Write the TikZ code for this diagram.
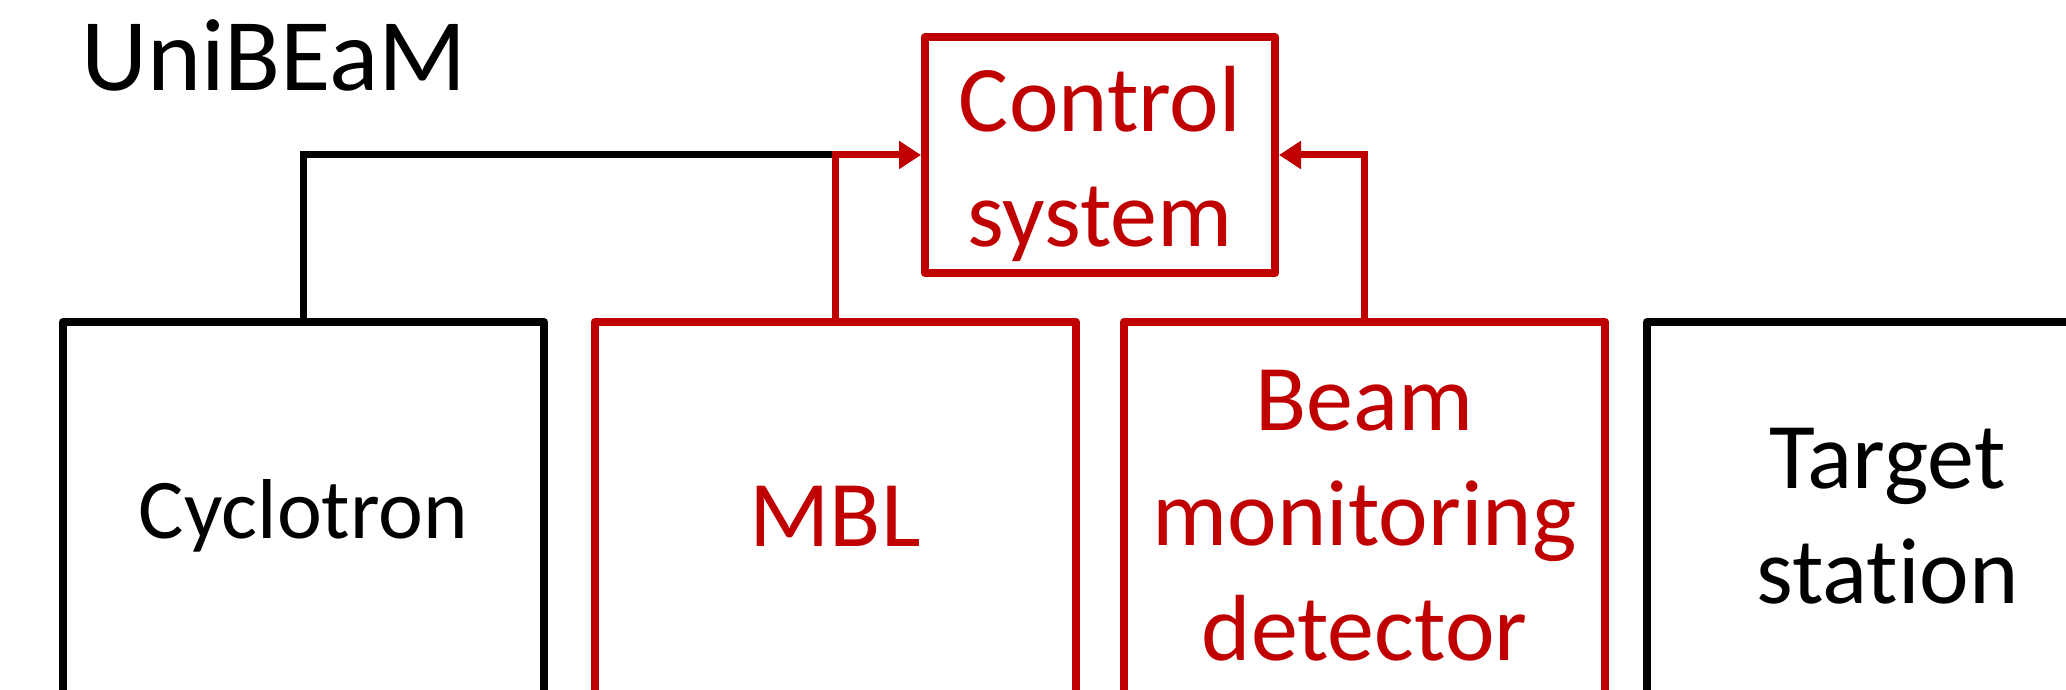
\documentclass[tikz,border=0pt]{standalone}
\usepackage{fontspec}
\setmainfont{Carlito}[Ligatures=CommonOff]
\usetikzlibrary{arrows.meta}
\definecolor{deepred}{HTML}{C00000}

\begin{document}
\begin{tikzpicture}[x=0.5pt,y=0.5pt,
 part/.style={draw,line width=4pt,line join=round,minimum width=240.5pt,minimum height=194pt,align=center,inner sep=0pt,font=\fontsize{47}{57.5}\selectfont},
 red part/.style={part,draw=deepred,text=deepred},
 link/.style={line width=3.5pt},
 feed/.style={link,draw=deepred,-{Triangle[length=11pt,width=13.5pt]}}]
 \useasboundingbox (0,0) rectangle (2066,690);
 \clip (0,0) rectangle (2066,690);
 \node[anchor=base west,font=\fontsize{51.5}{60}\selectfont] (title) at (74,599) {UniBEaM};
 \node[red part,minimum width=175pt,minimum height=118pt] (ctrl) at (1100,535) {\rule{0pt}{42pt}Control\\system};
 \node[part,font=\fontsize{42.5}{57.5}\selectfont] (cyc) at (303.5,174) {Cyclotron};
 \node[red part] (mbl) at (835,174) {MBL};
 \node[red part] (bmd) at (1364.5,174) {Beam\\monitoring\\detector};
 \node[part] (tgt) at (1887.5,174) {Target\\station};
 \draw[link] (cyc.north) |- (mbl.north |- ctrl.west);
 \draw[feed] (mbl.north) |- (ctrl.west);
 \draw[feed] (bmd.north) |- (ctrl.east);
\end{tikzpicture}
\end{document}
